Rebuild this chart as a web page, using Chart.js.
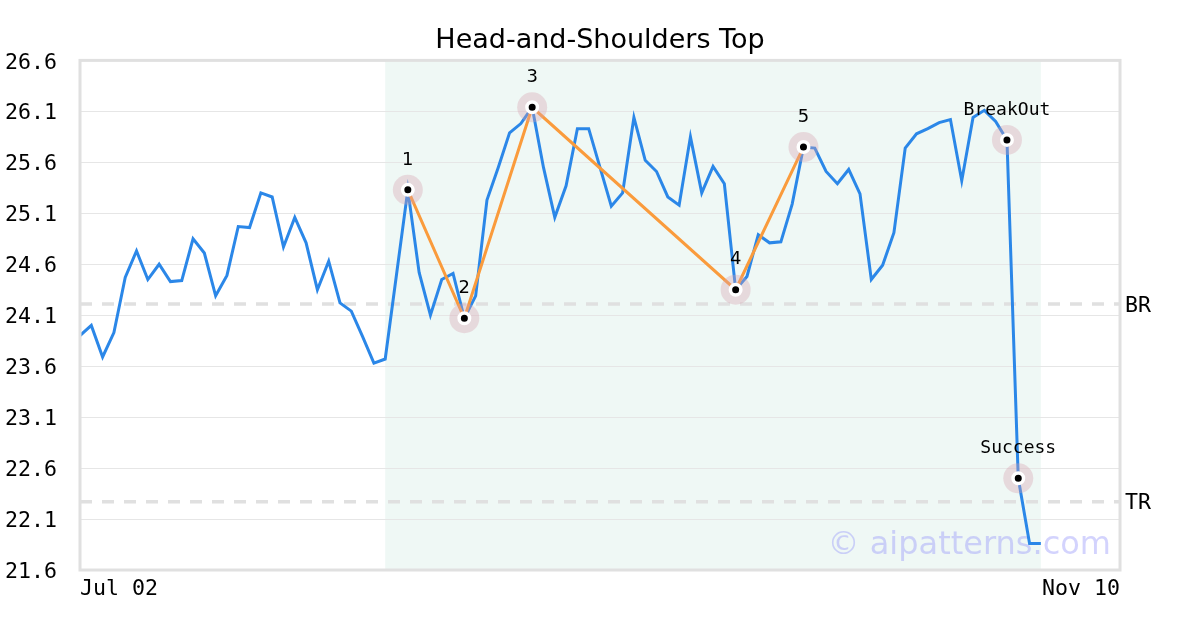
<!DOCTYPE html>
<html>
<head>
<meta charset="utf-8">
<script src="https://cdn.jsdelivr.net/npm/chart.js@4.4.1/dist/chart.umd.min.js"></script>
<style>
  html, body { margin: 0; padding: 0; background: #fff; }
  #wrap { width: 1200px; height: 630px; }
</style>
</head>
<body>
<div id="wrap"><canvas id="chart"></canvas></div>
<script>
const chartTitle = "Head-and-Shoulders Top";
const xTickLabels = ["Jul 02", "Nov 10"];
const xLast = 92; // axis runs on past the last close, up to Nov 10

// daily closes
const closes = [
  23.90, 24.00, 23.69, 23.93, 24.47, 24.73, 24.45, 24.60, 24.43, 24.44,
  24.85, 24.71, 24.29, 24.49, 24.97, 24.96, 25.30, 25.26, 24.77, 25.06,
  24.81, 24.35, 24.63, 24.22, 24.14, 23.89, 23.63, 23.67, 24.50, 25.33,
  24.52, 24.10, 24.45, 24.51, 24.07, 24.29, 25.23, 25.55, 25.89, 25.98,
  26.14, 25.55, 25.06, 25.37, 25.93, 25.93, 25.55, 25.17, 25.30, 26.04,
  25.62, 25.51, 25.26, 25.18, 25.85, 25.30, 25.56, 25.39, 24.35, 24.48,
  24.89, 24.81, 24.82, 25.19, 25.75, 25.74, 25.51, 25.39, 25.53, 25.29,
  24.45, 24.59, 24.91, 25.74, 25.88, 25.93, 25.99, 26.02, 25.42, 26.04,
  26.11, 26.00, 25.82, 22.50, 21.86, 21.86
];

const zoneFrom = 27;
const zoneTo = 85;

const patternIdx = [29, 34, 40, 58, 64];
const patternNames = ["1", "2", "3", "4", "5"];
const eventIdx = [82, 83];
const eventNames = ["BreakOut", "Success"];

const levelNames = ["BR", "TR"];
const levelValues = [24.21, 22.27];

const yMin = 21.6;
const yMax = 26.6;
const yStep = 0.5;

const BLUE = "#2b87e8";
const ORANGE = "#fa9b3c";
const MONO = "'DejaVu Sans Mono', monospace";
const SANS = "'DejaVu Sans', sans-serif";
const TICK_SIZE = 21.6;

const pts = (idx) => idx.map((i) => ({ x: i, y: closes[i] }));

const levelSets = levelValues.map((v) => ({
  data: [{ x: 0, y: v }, { x: xLast, y: v }],
  borderColor: "#e0e0e0",
  borderWidth: 3.5,
  borderDash: [12, 10],
  pointRadius: 0,
  order: 9,
}));

const markIdx = patternIdx.concat(eventIdx);

// shaded pattern zone, border, watermark, texts
const decor = {
  id: "decor",
  beforeDraw(chart) {
    const { ctx, chartArea: a, scales: { x } } = chart;
    ctx.save();
    ctx.fillStyle = "#eff8f5";
    const x0 = x.getPixelForValue(zoneFrom);
    const x1 = x.getPixelForValue(zoneTo);
    ctx.fillRect(x0, a.top, x1 - x0, a.bottom - a.top);
    ctx.restore();
  },
  beforeDatasetsDraw(chart) {
    const { ctx, chartArea: a } = chart;
    ctx.save();
    ctx.font = "32px " + SANS;
    ctx.fillStyle = "rgba(150,150,250,0.42)";
    ctx.textAlign = "right";
    ctx.textBaseline = "alphabetic";
    ctx.fillText("\u00a9 aipatterns.com", a.right - 9, a.bottom - 16);
    ctx.restore();
  },
  afterDatasetsDraw(chart) {
    const { ctx, chartArea: a, scales: { x, y } } = chart;
    ctx.save();
    ctx.fillStyle = "#000";
    ctx.textAlign = "center";
    ctx.textBaseline = "middle";
    ctx.font = "18px " + SANS;
    patternIdx.forEach((i, k) => {
      ctx.fillText(patternNames[k], x.getPixelForValue(i), y.getPixelForValue(closes[i]) - 30);
    });
    ctx.font = "18px " + MONO;
    eventIdx.forEach((i, k) => {
      ctx.fillText(eventNames[k], x.getPixelForValue(i), y.getPixelForValue(closes[i]) - 30);
    });
    ctx.font = TICK_SIZE + "px " + MONO;
    ctx.textAlign = "left";
    levelValues.forEach((v, k) => {
      ctx.fillText(levelNames[k], a.right + 5, y.getPixelForValue(v) + 2);
    });
    ctx.strokeStyle = "#e0e0e0";
    ctx.lineWidth = 3;
    ctx.strokeRect(a.left, a.top, a.right - a.left, a.bottom - a.top);
    ctx.restore();
  },
};

new Chart(document.getElementById("chart"), {
  type: "line",
  data: {
    datasets: [
      ...levelSets,
      {
        data: closes.map((v, i) => ({ x: i, y: v })),
        borderColor: BLUE,
        borderWidth: 3,
        pointRadius: 0,
        tension: 0,
        order: 5,
      },
      {
        data: pts(patternIdx),
        borderColor: ORANGE,
        borderWidth: 3,
        pointRadius: 0,
        order: 4,
      },
      {
        data: pts(markIdx),
        showLine: false,
        pointRadius: 15,
        pointBackgroundColor: "rgba(215,160,175,0.35)",
        pointBorderWidth: 0,
        order: 3,
      },
      {
        data: pts(markIdx),
        showLine: false,
        pointRadius: 5.25,
        pointBackgroundColor: "#000",
        pointBorderColor: "#fff",
        pointBorderWidth: 3.5,
        order: 2,
      },
    ],
  },
  options: {
    responsive: true,
    maintainAspectRatio: false,
    animation: false,
    layout: { padding: 0 },
    plugins: {
      legend: { display: false },
      tooltip: { enabled: false },
      title: {
        display: true,
        text: chartTitle,
        color: "#000",
        font: { family: SANS, size: 27, weight: "normal", lineHeight: 1.2 },
        padding: { top: 25, bottom: 3 },
      },
    },
    scales: {
      x: {
        type: "linear",
        min: 0,
        max: xLast,
        grid: { display: false, drawTicks: false },
        border: { display: false },
        afterBuildTicks(s) {
          s.ticks = [{ value: 0 }, { value: xLast }];
        },
        afterFit(s) {
          s.height = 60;
        },
        ticks: {
          align: "inner",
          maxRotation: 0,
          padding: 6,
          color: "#000",
          font: { family: MONO, size: TICK_SIZE },
          callback: (v) => (v === 0 ? xTickLabels[0] : xTickLabels[1]),
        },
      },
      y: {
        min: yMin,
        max: yMax,
        grid: { color: "#e6e6e6", lineWidth: 1, drawTicks: false },
        border: { display: false },
        afterFit(s) {
          s.width = 80;
        },
        ticks: {
          stepSize: yStep,
          padding: 23,
          labelOffset: 2.5,
          color: "#000",
          font: { family: MONO, size: TICK_SIZE },
          callback: (v) => Number(v).toFixed(1),
        },
      },
      // empty right-hand strip where the BR / TR names sit
      side: {
        position: "right",
        min: yMin,
        max: yMax,
        grid: { display: false, drawTicks: false },
        border: { display: false },
        ticks: { display: false },
        afterFit(s) {
          s.width = 80;
        },
      },
    },
  },
  plugins: [decor],
});
</script>
</body>
</html>
